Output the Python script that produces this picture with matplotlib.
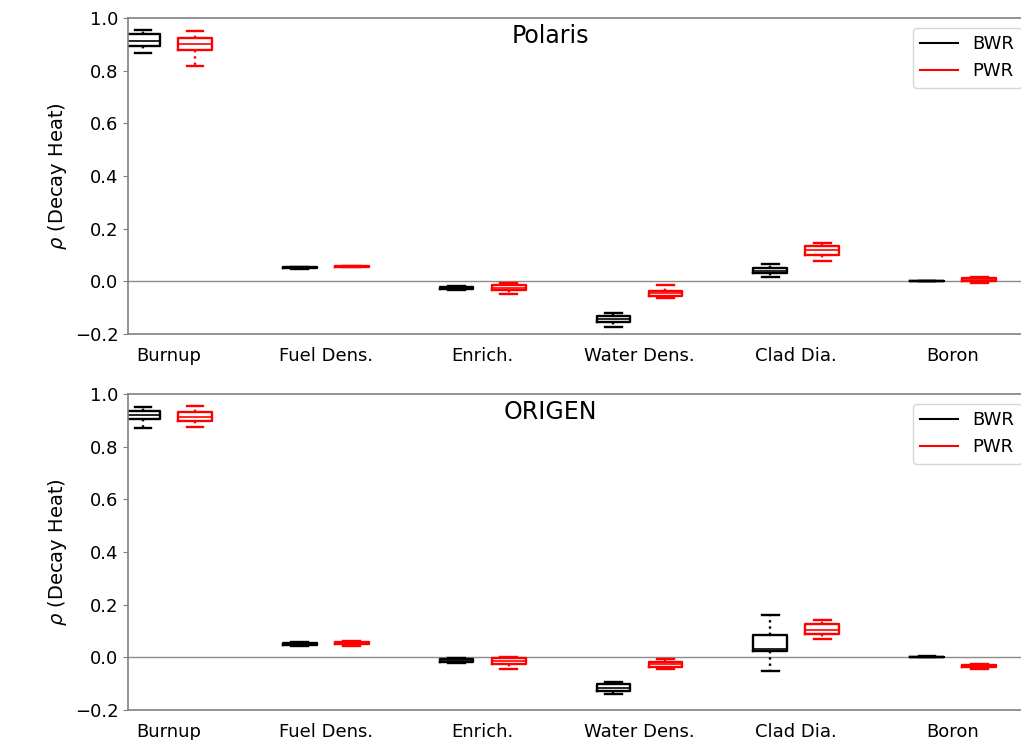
import matplotlib
matplotlib.use("Agg")
from matplotlib import pyplot as plt
from matplotlib.lines import Line2D

plt.rcParams.update({'font.size': 13})

categories = ["Burnup", "Fuel Dens.", "Enrich.", "Water Dens.", "Clad Dia.", "Boron"]

# box stats per category: [whislo, q1, med, q3, whishi]
polaris_bwr = [
    [0.868, 0.895, 0.913, 0.938, 0.954],
    [0.048, 0.050, 0.052, 0.054, 0.056],
    [-0.032, -0.029, -0.025, -0.021, -0.019],
    [-0.175, -0.153, -0.143, -0.131, -0.119],
    [0.015, 0.030, 0.040, 0.049, 0.066],
    [0.000, 0.000, 0.001, 0.001, 0.002],
]
polaris_pwr = [
    [0.819, 0.877, 0.900, 0.923, 0.951],
    [0.054, 0.055, 0.057, 0.059, 0.060],
    [-0.048, -0.033, -0.024, -0.014, -0.008],
    [-0.065, -0.056, -0.046, -0.036, -0.015],
    [0.078, 0.100, 0.119, 0.135, 0.144],
    [-0.005, 0.001, 0.008, 0.014, 0.016],
]
origen_bwr = [
    [0.872, 0.904, 0.921, 0.937, 0.952],
    [0.045, 0.048, 0.051, 0.054, 0.057],
    [-0.021, -0.019, -0.013, -0.006, -0.004],
    [-0.140, -0.128, -0.115, -0.102, -0.095],
    [-0.050, 0.024, 0.030, 0.086, 0.161],
    [0.000, 0.001, 0.002, 0.003, 0.004],
]
origen_pwr = [
    [0.874, 0.897, 0.914, 0.931, 0.955],
    [0.045, 0.050, 0.055, 0.060, 0.062],
    [-0.044, -0.025, -0.013, -0.004, 0.003],
    [-0.043, -0.035, -0.025, -0.016, -0.007],
    [0.071, 0.088, 0.104, 0.127, 0.142],
    [-0.044, -0.038, -0.033, -0.029, -0.027],
]

panels = [("Polaris", polaris_bwr, polaris_pwr),
          ("ORIGEN", origen_bwr, origen_pwr)]


def to_stats(rows):
    out = []
    for lo, q1, med, q3, hi in rows:
        out.append(dict(whislo=lo, q1=q1, med=med, q3=q3, whishi=hi, fliers=[]))
    return out


def draw_boxes(ax, rows, pos, color):
    ax.bxp(to_stats(rows), positions=pos, widths=0.215, showfliers=False,
           boxprops=dict(color=color, linewidth=1.7),
           medianprops=dict(color=color, linewidth=1.2),
           whiskerprops=dict(color=color, linewidth=1.7, linestyle=':'),
           capprops=dict(color=color, linewidth=1.7),
           manage_ticks=False)


fig = plt.figure(figsize=(10.21, 7.40), dpi=100)
rects = [[0.1254, 0.5486, 0.8746, 0.4271], [0.1254, 0.0405, 0.8746, 0.4271]]

x = list(range(len(categories)))
for rect, (name, bwr, pwr) in zip(rects, panels):
    ax = fig.add_axes(rect)
    ax.axhline(0, color='0.55', linewidth=1.0, zorder=0)
    draw_boxes(ax, bwr, [i - 0.166 for i in x], 'black')
    draw_boxes(ax, pwr, [i + 0.166 for i in x], 'red')
    ax.set_xlim(-0.261, 5.433)
    ax.set_ylim(-0.2, 1.0)
    ax.set_xticks(x)
    ax.set_xticklabels(categories)
    ax.tick_params(axis='x', length=0, pad=9)
    ax.tick_params(axis='y', color='0.5')
    ax.set_yticks([-0.2, 0.0, 0.2, 0.4, 0.6, 0.8, 1.0])
    ax.set_ylabel(r'$\rho$ (Decay Heat)', fontsize=14)
    ax.spines['right'].set_visible(False)
    for s in ['left', 'top', 'bottom']:
        ax.spines[s].set_color('0.5')
        ax.spines[s].set_linewidth(1.2)
    ax.text(0.4726, 0.98, name, transform=ax.transAxes, ha='center', va='top', fontsize=17)
    handles = [Line2D([], [], color='black', lw=1.5), Line2D([], [], color='red', lw=1.5)]
    ax.legend(handles, ['BWR', 'PWR'], loc='upper left', bbox_to_anchor=(0.879, 0.968),
              fontsize=13, handlelength=2.1, handletextpad=0.8, borderaxespad=0)

fig.savefig("out.png", dpi=100)
